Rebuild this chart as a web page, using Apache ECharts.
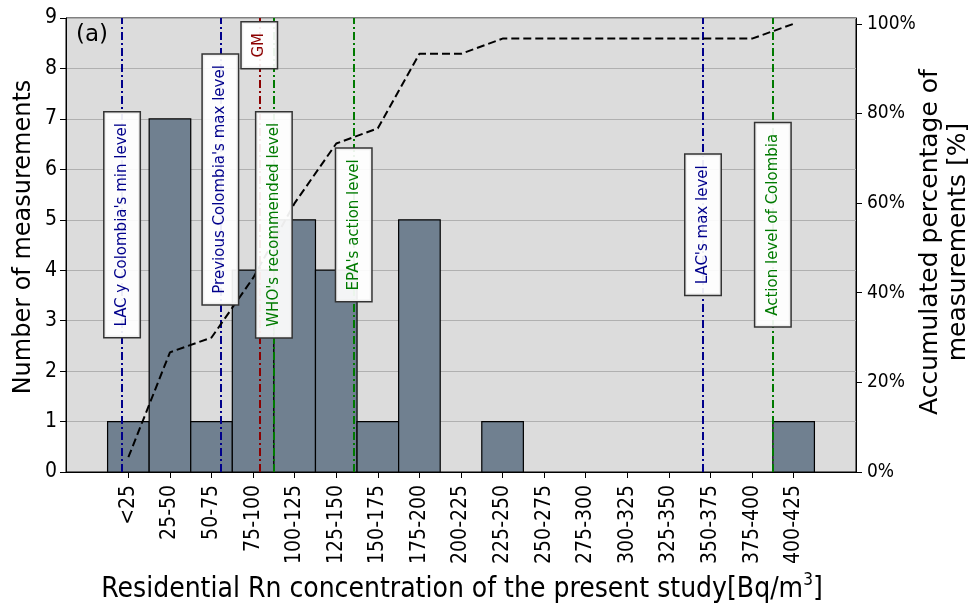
<!DOCTYPE html>
<html>
<head>
<meta charset="utf-8">
<script src="https://cdn.jsdelivr.net/npm/echarts@6/dist/echarts.min.js"></script>
<style>
html,body{margin:0;padding:0;background:#fff;}
#chart{width:976px;height:606px;}
</style>
</head>
<body>
<div id="chart"></div>
<script>
// ---- data ----
const binEdges = [0,25,50,75,100,125,150,175,200,225,250,275,300,325,350,375,400,425];
const binLabels = ['<25','25-50','50-75','75-100','100-125','125-150','150-175','175-200','200-225','225-250','250-275','275-300','300-325','325-350','350-375','375-400','400-425'];
const counts = [1,7,1,4,5,4,1,5,0,1,0,0,0,0,0,0,1];
const cumulativePct = [3.3,26.7,30.0,43.3,60.0,73.3,76.7,93.3,93.3,96.7,96.7,96.7,96.7,96.7,96.7,96.7,100];
const refNames = ["LAC y Colombia's min level","Previous Colombia's max level","GM","WHO's recommended level","EPA's action level","LAC's max level","Action level of Colombia"];
const refValues = [8.7,67.8,91.2,100,148,358,400];
const refLabelY = [4.9,5.8,8.46,4.9,4.9,4.9,4.9];
const rightTicks = [0,20,40,60,80,100];

// ---- styles ----
const refColorKey = ['blue','blue','red','green','green','blue','green'];
const colorMap = {blue:'#00008b', red:'#8b0000', green:'#007a00'};
const DIN = "'DejaVu Sans Condensed','Liberation Sans Narrow',Roboto,sans-serif";
const DJ = "'DejaVu Sans',sans-serif";

const centers = binLabels.map((_, i) => (binEdges[i] + binEdges[i+1]) / 2);
const barData = counts.map((c, i) => [binEdges[i], binEdges[i+1], c]);
const lineData = cumulativePct.map((p, i) => [centers[i], p]);

const chart = echarts.init(document.getElementById('chart'), null, {renderer:'canvas'});
const option = {
  animation: false,
  backgroundColor: '#ffffff',
  grid: {left:66, right:120, top:18, bottom:134, show:true, backgroundColor:'#dcdcdc', borderColor:'#000', borderWidth:1},
  xAxis: {
    type:'value', min:-25, max:450,
    axisLine:{show:true, onZero:false, lineStyle:{color:'#000', width:1}},
    axisTick:{show:true, customValues:centers, length:6, inside:false, lineStyle:{color:'#000'}},
    axisLabel:{customValues:centers, rotate:90, margin:13, fontSize:21, color:'#000', fontFamily:DIN,
      formatter: v => { const i = centers.indexOf(v); return i >= 0 ? binLabels[i] : ''; }},
    splitLine:{show:false}
  },
  yAxis: [
    {type:'value', min:0, max:9, interval:1,
     axisLine:{show:true, onZero:false, lineStyle:{color:'#000'}},
     axisTick:{show:true, length:6, lineStyle:{color:'#000'}},
     axisLabel:{fontSize:21, color:'#000', fontFamily:DIN, margin:9},
     splitLine:{show:true, lineStyle:{color:'#b0b0b0', width:1.2}}},
    {type:'value', position:'right', min:0, max:101.3,
     axisLine:{show:true, onZero:false, lineStyle:{color:'#000'}},
     axisTick:{show:true, length:6, customValues:rightTicks, lineStyle:{color:'#000'}},
     axisLabel:{customValues:rightTicks, formatter: v => v + '%', fontSize:19, color:'#000', fontFamily:DIN, margin:11},
     splitLine:{show:false}}
  ],
  series: [
    {
      type:'custom', z:2, xAxisIndex:0, yAxisIndex:0,
      encode:{x:[0,1], y:2},
      data: barData,
      renderItem: (params, api) => {
        const c = api.value(2);
        if (!c) return null;
        const p0 = api.coord([api.value(0), c]);
        const p1 = api.coord([api.value(1), 0]);
        return {type:'rect', shape:{x:p0[0], y:p0[1], width:p1[0]-p0[0], height:p1[1]-p0[1]},
          style:{fill:'#708090', stroke:'#000', lineWidth:1.2}};
      }
    },
    {
      type:'line', z:3, yAxisIndex:1, data: lineData, symbol:'none',
      lineStyle:{color:'#000', width:2, type:[8,4]},
      markLine:{
        z:3, silent:true, symbol:['none','none'], label:{show:false},
        data: refValues.map((v, i) => ({xAxis:v, lineStyle:{color:colorMap[refColorKey[i]], width:2, type:[8,3,2,3]}}))
      }
    },
    {
      type:'scatter', z:10, yAxisIndex:0, symbolSize:2, itemStyle:{color:'rgba(0,0,0,0)'},
      data: refValues.map((v, i) => ({value:[v, refLabelY[i]], label:{color:colorMap[refColorKey[i]]}})),
      label:{show:true, position:'inside', rotate:90, opacity:1, formatter: p => refNames[p.dataIndex],
        fontFamily:DJ, fontSize:15, lineHeight:15, backgroundColor:'rgba(255,255,255,0.92)',
        borderColor:'#333', borderWidth:1.5, padding:[10,10.5]}
    }
  ],
  graphic: [
    {type:'text', left:76, top:24, style:{text:'(a)', font:"23px 'DejaVu Sans'", fill:'#000'}},
    {type:'text', x:24, y:237, rotation:Math.PI/2,
     style:{text:'Number of measurements', font:"24px 'DejaVu Sans'", fill:'#000', align:'center', verticalAlign:'middle'}},
    {type:'text', x:944, y:242, rotation:Math.PI/2,
     style:{text:'Accumulated percentage of\nmeasurements [%]', font:"25px 'DejaVu Sans'", lineHeight:28, fill:'#000', align:'center', verticalAlign:'middle'}},
    {type:'text', x:462, y:588,
     style:{text:'{t|Residential Rn concentration of the present study[Bq/m}{s|3}{t|]}', align:'center', verticalAlign:'middle',
       rich:{t:{fontSize:28, fontFamily:DIN, fill:'#000', lineHeight:32, verticalAlign:'bottom'},
             s:{fontSize:17, fontFamily:DIN, fill:'#000', lineHeight:32, verticalAlign:'top'}}}}
  ]
};
chart.setOption(option);
</script>
</body>
</html>
